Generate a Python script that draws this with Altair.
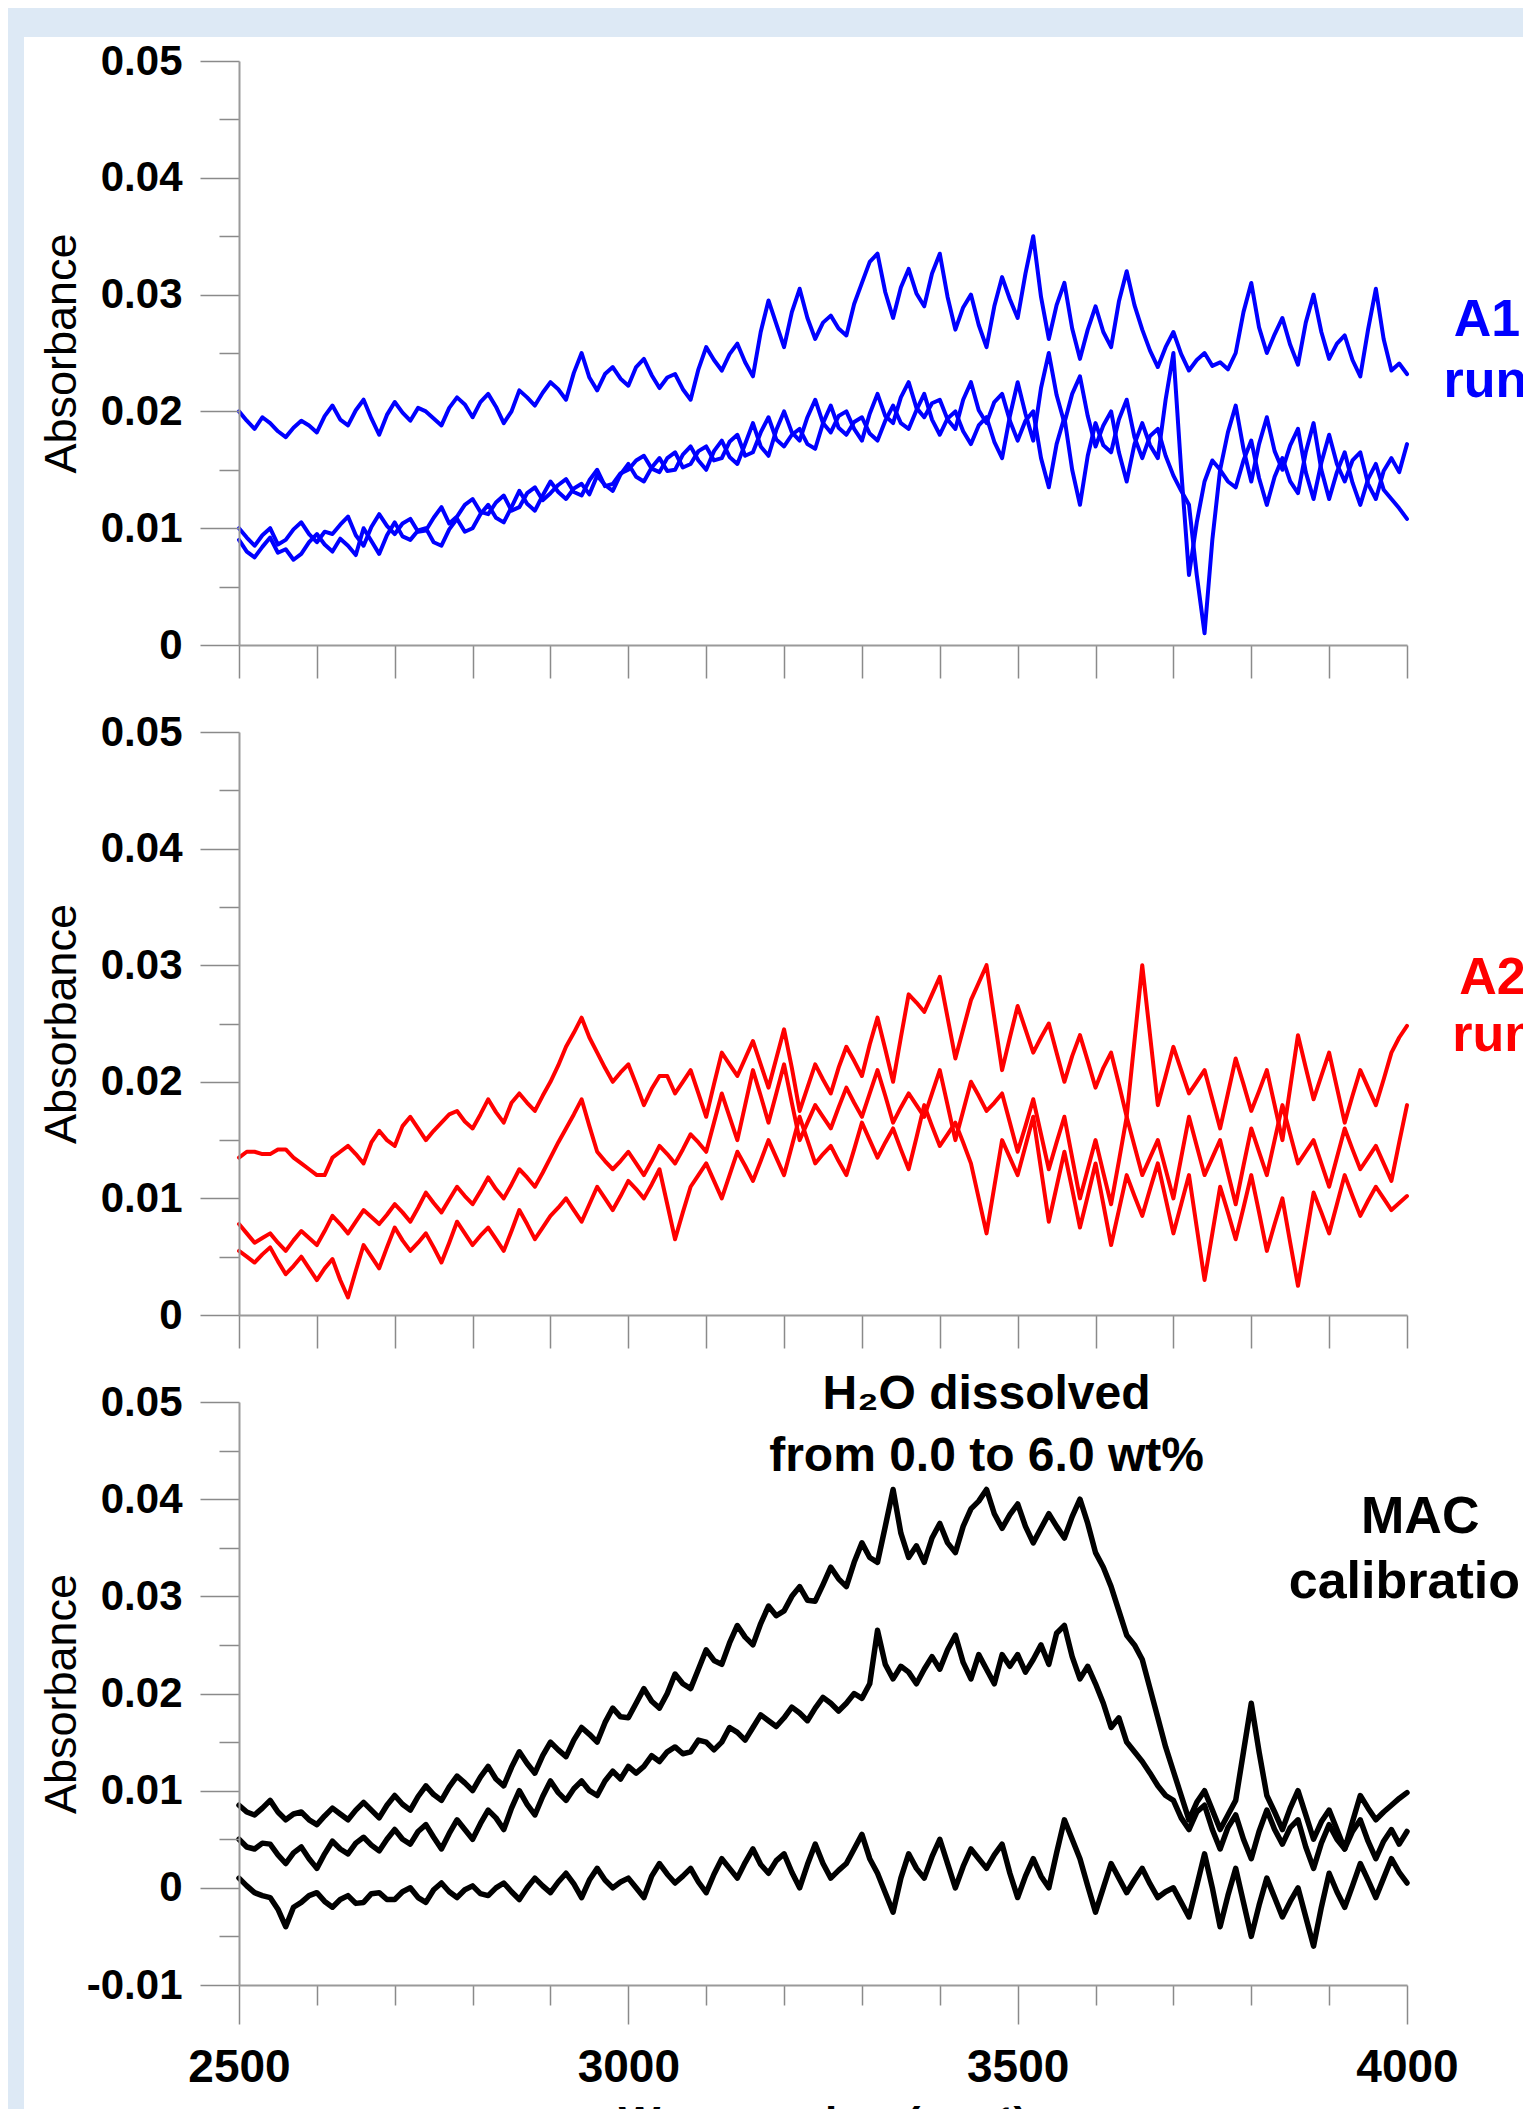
import altair as alt
import pandas as pd

# ---------------- data (absorbance every 10 cm-1 from 2500 to 4000) ----------------
WN = list(range(2500, 4001, 10))

A1_upper = [
    .0200, .0192, .0185, .0195, .0190, .0183, .0178, .0186, .0192, .0188,
    .0182, .0196, .0205, .0193, .0188, .0201, .0210, .0194, .0180, .0197,
    .0208, .0199, .0192, .0203, .0200, .0194, .0188, .0203, .0212, .0206,
    .0195, .0208, .0215, .0204, .0190, .0200, .0218, .0212, .0205, .0216,
    .0225, .0219, .0210, .0233, .0250, .0229, .0218, .0232, .0238, .0228,
    .0222, .0238, .0245, .0231, .0220, .0229, .0232, .0219, .0210, .0236,
    .0255, .0244, .0235, .0249, .0258, .0242, .0230, .0268, .0295, .0275,
    .0255, .0285, .0305, .0280, .0262, .0276, .0282, .0271, .0265, .0292,
    .0310, .0328, .0335, .0302, .0280, .0306, .0322, .0301, .0290, .0318,
    .0335, .0298, .0270, .0289, .0300, .0274, .0255, .0290, .0315, .0296,
    .0280, .0318, .0350, .0298, .0262, .0291, .0310, .0271, .0245, .0270,
    .0290, .0268, .0255, .0294, .0320, .0291, .0270, .0252, .0238, .0255,
    .0268, .0249, .0235, .0244, .0250, .0239, .0242, .0236, .0250, .0285,
    .0310, .0272, .0250, .0266, .0280, .0257, .0240, .0276, .0300, .0268,
    .0245, .0258, .0265, .0244, .0230, .0270, .0305, .0262, .0235, .0241,
    .0232]
A1_mid = [
    .0100, .0092, .0085, .0094, .0100, .0086, .0090, .0099, .0105, .0095,
    .0088, .0097, .0095, .0103, .0110, .0094, .0085, .0101, .0112, .0102,
    .0095, .0104, .0108, .0097, .0098, .0109, .0118, .0104, .0110, .0120,
    .0125, .0114, .0112, .0122, .0128, .0115, .0118, .0130, .0135, .0124,
    .0130, .0137, .0142, .0131, .0128, .0141, .0150, .0136, .0138, .0147,
    .0150, .0158, .0162, .0151, .0148, .0160, .0165, .0152, .0155, .0166,
    .0170, .0158, .0160, .0174, .0180, .0162, .0165, .0182, .0195, .0176,
    .0170, .0180, .0185, .0172, .0168, .0190, .0205, .0186, .0180, .0191,
    .0195, .0181, .0175, .0192, .0205, .0190, .0185, .0201, .0215, .0193,
    .0180, .0194, .0200, .0183, .0172, .0188, .0195, .0174, .0160, .0196,
    .0225, .0198, .0175, .0220, .0250, .0214, .0190, .0215, .0230, .0196,
    .0170, .0188, .0200, .0165, .0140, .0172, .0190, .0171, .0160, .0210,
    .0250, .0150, .0060, .0105, .0140, .0158, .0150, .0182, .0205, .0168,
    .0140, .0172, .0195, .0166, .0150, .0171, .0185, .0148, .0125, .0156,
    .0180, .0155, .0140, .0158, .0165, .0138, .0125, .0149, .0160, .0148,
    .0172]
A1_low = [
    .0090, .0080, .0075, .0084, .0092, .0079, .0082, .0073, .0078, .0088,
    .0095, .0086, .0080, .0091, .0085, .0077, .0100, .0089, .0078, .0094,
    .0105, .0093, .0090, .0098, .0100, .0088, .0085, .0099, .0108, .0097,
    .0100, .0112, .0120, .0109, .0105, .0118, .0132, .0121, .0115, .0128,
    .0140, .0131, .0125, .0134, .0138, .0129, .0145, .0137, .0132, .0146,
    .0155, .0144, .0140, .0152, .0160, .0149, .0150, .0163, .0170, .0158,
    .0150, .0166, .0175, .0161, .0155, .0172, .0190, .0170, .0162, .0184,
    .0200, .0182, .0175, .0195, .0210, .0190, .0182, .0196, .0200, .0185,
    .0175, .0198, .0215, .0196, .0190, .0212, .0225, .0203, .0195, .0207,
    .0210, .0193, .0185, .0210, .0225, .0201, .0190, .0208, .0215, .0192,
    .0175, .0192, .0200, .0160, .0135, .0172, .0195, .0150, .0120, .0162,
    .0190, .0171, .0165, .0193, .0210, .0178, .0160, .0179, .0185, .0162,
    .0145, .0132, .0120, .0060, .0010, .0090, .0150, .0140, .0135, .0158,
    .0175, .0143, .0120, .0144, .0160, .0140, .0130, .0165, .0190, .0150,
    .0125, .0148, .0165, .0139, .0120, .0142, .0155, .0133, .0125, .0117,
    .0108]

A2_upper = [
    .0135, .0140, .0140, .0138, .0138, .0142, .0142, .0135, .0130, .0125,
    .0120, .0120, .0135, .0140, .0145, .0138, .0130, .0148, .0158, .0150,
    .0145, .0162, .0170, .0160, .0150, .0158, .0165, .0172, .0175, .0166,
    .0160, .0172, .0185, .0174, .0165, .0182, .0190, .0182, .0175, .0188,
    .0200, .0214, .0230, .0242, .0255, .0238, .0225, .0212, .0200, .0208,
    .0215, .0198, .0180, .0194, .0205, .0205, .0190, .0200, .0210, .0190,
    .0170, .0198, .0225, .0215, .0205, .0220, .0235, .0215, .0195, .0220,
    .0245, .0212, .0175, .0195, .0215, .0202, .0190, .0212, .0230, .0218,
    .0205, .0232, .0255, .0228, .0200, .0238, .0275, .0268, .0260, .0275,
    .0290, .0255, .0220, .0245, .0270, .0285, .0300, .0255, .0210, .0238,
    .0265, .0245, .0225, .0238, .0250, .0225, .0200, .0222, .0240, .0218,
    .0195, .0212, .0225, .0198, .0170, .0235, .0300, .0240, .0180, .0205,
    .0230, .0210, .0190, .0200, .0210, .0185, .0160, .0190, .0220, .0198,
    .0175, .0192, .0210, .0180, .0150, .0195, .0240, .0212, .0185, .0205,
    .0225, .0195, .0165, .0188, .0210, .0195, .0180, .0202, .0225, .0238,
    .0248]
A2_mid = [
    .0078, .0070, .0062, .0066, .0070, .0062, .0055, .0064, .0072, .0066,
    .0060, .0072, .0085, .0078, .0070, .0080, .0090, .0084, .0078, .0086,
    .0095, .0088, .0080, .0092, .0105, .0096, .0088, .0099, .0110, .0102,
    .0095, .0106, .0118, .0108, .0100, .0112, .0125, .0118, .0110, .0122,
    .0135, .0148, .0160, .0172, .0185, .0162, .0140, .0132, .0125, .0132,
    .0140, .0130, .0120, .0132, .0145, .0138, .0130, .0142, .0155, .0148,
    .0140, .0165, .0190, .0170, .0150, .0180, .0210, .0188, .0165, .0190,
    .0215, .0182, .0150, .0165, .0180, .0170, .0160, .0178, .0195, .0182,
    .0170, .0190, .0210, .0188, .0165, .0178, .0190, .0180, .0170, .0190,
    .0210, .0180, .0150, .0175, .0200, .0188, .0175, .0182, .0190, .0165,
    .0140, .0162, .0185, .0155, .0125, .0148, .0170, .0135, .0100, .0125,
    .0150, .0122, .0095, .0132, .0170, .0145, .0120, .0135, .0150, .0125,
    .0100, .0135, .0170, .0145, .0120, .0135, .0150, .0122, .0095, .0128,
    .0160, .0140, .0120, .0150, .0180, .0155, .0130, .0140, .0150, .0130,
    .0110, .0135, .0160, .0142, .0125, .0135, .0145, .0130, .0115, .0148,
    .0180]
A2_low = [
    .0055, .0050, .0045, .0052, .0058, .0046, .0035, .0042, .0050, .0040,
    .0030, .0040, .0048, .0030, .0015, .0038, .0060, .0050, .0040, .0058,
    .0075, .0064, .0055, .0062, .0070, .0058, .0045, .0062, .0080, .0070,
    .0060, .0068, .0075, .0065, .0055, .0072, .0090, .0078, .0065, .0075,
    .0085, .0092, .0100, .0090, .0080, .0095, .0110, .0100, .0090, .0102,
    .0115, .0108, .0100, .0112, .0125, .0095, .0065, .0088, .0110, .0120,
    .0130, .0115, .0100, .0120, .0140, .0128, .0115, .0132, .0150, .0135,
    .0120, .0145, .0170, .0150, .0130, .0138, .0145, .0132, .0120, .0142,
    .0165, .0150, .0135, .0148, .0160, .0142, .0125, .0152, .0180, .0162,
    .0145, .0155, .0165, .0148, .0130, .0100, .0070, .0110, .0150, .0135,
    .0120, .0145, .0170, .0125, .0080, .0110, .0140, .0108, .0075, .0102,
    .0130, .0095, .0060, .0090, .0120, .0102, .0085, .0108, .0130, .0100,
    .0070, .0095, .0120, .0075, .0030, .0070, .0110, .0088, .0065, .0092,
    .0120, .0088, .0055, .0078, .0100, .0062, .0025, .0065, .0105, .0088,
    .0070, .0095, .0120, .0102, .0085, .0098, .0110, .0100, .0090, .0096,
    .0102]

MAC_6wt = [
    .0085, .0078, .0075, .0082, .0090, .0078, .0070, .0076, .0078, .0070,
    .0065, .0074, .0082, .0076, .0070, .0080, .0088, .0080, .0072, .0085,
    .0095, .0086, .0080, .0094, .0105, .0096, .0090, .0104, .0115, .0108,
    .0100, .0114, .0125, .0112, .0105, .0124, .0140, .0128, .0118, .0136,
    .0150, .0142, .0135, .0152, .0165, .0158, .0150, .0170, .0185, .0176,
    .0175, .0190, .0205, .0192, .0185, .0200, .0220, .0210, .0205, .0225,
    .0245, .0234, .0230, .0252, .0270, .0258, .0250, .0272, .0290, .0280,
    .0285, .0300, .0310, .0296, .0295, .0312, .0330, .0318, .0310, .0335,
    .0355, .0340, .0335, .0372, .0410, .0365, .0340, .0352, .0335, .0360,
    .0375, .0355, .0345, .0372, .0390, .0398, .0410, .0385, .0370, .0384,
    .0395, .0372, .0355, .0370, .0385, .0372, .0360, .0382, .0400, .0375,
    .0345, .0330, .0310, .0285, .0260, .0250, .0235, .0205, .0175, .0145,
    .0120, .0095, .0070, .0088, .0100, .0080, .0060, .0075, .0090, .0140,
    .0190, .0140, .0095, .0078, .0060, .0082, .0100, .0075, .0050, .0068,
    .0080, .0060, .0040, .0068, .0095, .0082, .0070, .0078, .0085, .0092,
    .0098]
MAC_mid = [
    .0050, .0042, .0040, .0046, .0045, .0034, .0025, .0036, .0042, .0030,
    .0020, .0035, .0048, .0040, .0035, .0046, .0052, .0044, .0038, .0050,
    .0060, .0050, .0045, .0058, .0065, .0052, .0040, .0056, .0070, .0060,
    .0050, .0066, .0080, .0072, .0060, .0082, .0100, .0086, .0075, .0094,
    .0110, .0098, .0090, .0102, .0110, .0100, .0095, .0110, .0120, .0112,
    .0125, .0118, .0125, .0136, .0130, .0140, .0145, .0138, .0140, .0152,
    .0150, .0142, .0150, .0165, .0160, .0152, .0165, .0178, .0172, .0166,
    .0175, .0186, .0180, .0172, .0185, .0196, .0190, .0182, .0190, .0200,
    .0195, .0210, .0265, .0230, .0215, .0228, .0222, .0210, .0225, .0238,
    .0225, .0245, .0260, .0232, .0215, .0240, .0225, .0210, .0240, .0228,
    .0240, .0222, .0235, .0250, .0230, .0262, .0270, .0238, .0215, .0228,
    .0210, .0190, .0165, .0175, .0150, .0140, .0130, .0118, .0105, .0095,
    .0090, .0072, .0060, .0078, .0085, .0060, .0040, .0062, .0075, .0050,
    .0030, .0058, .0080, .0060, .0045, .0062, .0070, .0042, .0020, .0046,
    .0065, .0050, .0040, .0058, .0070, .0048, .0030, .0048, .0060, .0045,
    .0058]
MAC_0wt = [
    .0010, .0002, -.0005, -.0008, -.0010, -.0022, -.0040, -.0020, -.0015, -.0008,
    -.0005, -.0014, -.0020, -.0012, -.0008, -.0016, -.0015, -.0006, -.0005, -.0012,
    -.0012, -.0004, .0000, -.0010, -.0015, -.0002, .0005, -.0004, -.0010, -.0002,
    .0002, -.0006, -.0008, .0000, .0005, -.0004, -.0012, .0000, .0010, .0002,
    -.0005, .0006, .0015, .0004, -.0010, .0008, .0020, .0008, .0000, .0006,
    .0010, .0000, -.0010, .0012, .0025, .0014, .0005, .0012, .0020, .0006,
    -.0005, .0014, .0030, .0020, .0010, .0026, .0040, .0024, .0015, .0028,
    .0035, .0016, .0000, .0024, .0045, .0025, .0010, .0018, .0025, .0040,
    .0055, .0030, .0015, -.0005, -.0025, .0010, .0035, .0020, .0010, .0032,
    .0050, .0025, .0000, .0022, .0040, .0030, .0020, .0034, .0045, .0015,
    -.0010, .0012, .0030, .0012, .0000, .0036, .0070, .0050, .0030, .0002,
    -.0025, .0000, .0025, .0010, -.0005, .0008, .0020, .0004, -.0010, -.0004,
    .0000, -.0015, -.0030, .0002, .0035, .0000, -.0040, -.0008, .0020, -.0015,
    -.0050, -.0018, .0010, -.0010, -.0030, -.0014, .0000, -.0030, -.0060, -.0020,
    .0015, -.0004, -.0020, .0002, .0025, .0008, -.0010, .0010, .0030, .0016,
    .0005]

Y_TICKS_A = [0, .005, .01, .015, .02, .025, .03, .035, .04, .045, .05]
Y_TICKS_B = [-.01, -.005] + Y_TICKS_A
X_TICKS = list(range(2500, 4001, 100))

A1_labels = ["A1", "runs"]
A2_labels = ["A2", "runs"]
MAC_labels = ["MAC", "calibration"]
H2O_labels = ["H\u2082O dissolved", "from 0.0 to 6.0 wt%"]

# ---------------- helpers ----------------
FONT = "Liberation Sans"
W = 1168
AXIS_GRAY = "#9a9a9a"
TICK_GRAY = "#8a8a8a"
MAJOR_Y = "abs(datum.value*100 - round(datum.value*100)) < 1e-6"
MAJOR_X = "datum.value % 500 === 0"
Y_LABEL = (MAJOR_Y + " ? (abs(datum.value) < 1e-9 ? '0' : "
           "((datum.value < 0 ? '-' : '') + format(abs(datum.value), '.2f'))) : ''")


def long_df(series):
    rows = []
    for name, vals in series.items():
        assert len(vals) == len(WN), (name, len(vals))
        for w, v in zip(WN, vals):
            rows.append({"wn": w, "absorb": v, "trace": name})
    return pd.DataFrame(rows)


def x_axis(bottom):
    common = dict(values=X_TICKS, orient="bottom", zindex=1, grid=False,
                  domainColor=AXIS_GRAY, domainWidth=2, tickColor=TICK_GRAY,
                  tickWidth=1.5)
    if bottom:
        return alt.Axis(
            **common,
            tickSize={"condition": {"test": MAJOR_X, "value": 39}, "value": 20},
            labelExpr="datum.value % 500 === 0 ? format(datum.value, 'd') : ''",
            labelFlush=False,
            labelFont=FONT, labelFontWeight="bold", labelFontSize=46,
            labelColor="black", labelPadding=21,
            title="Wavenumber (cm\u207b\u00b9)", titleFont=FONT,
            titleFontWeight="bold", titleFontSize=44, titleColor="black",
            titlePadding=12,
        )
    return alt.Axis(**common, tickSize=33, labels=False, title=None)


def y_axis(vals, h):
    return alt.Axis(
        values=vals, orient="left", zindex=1, grid=False,
        domainColor=AXIS_GRAY, domainWidth=2, tickColor=TICK_GRAY, tickWidth=1.5,
        tickSize={"condition": {"test": MAJOR_Y, "value": 39}, "value": 20},
        labelExpr=Y_LABEL, labelFlush=False,
        labelFont=FONT, labelFontWeight="bold", labelFontSize=42,
        labelColor="black", labelPadding=18,
        title="Absorbance", titleFont=FONT, titleFontWeight="normal",
        titleFontSize=45, titleColor="black", titleAngle=-90,
        titleX=-178, titleY=h / 2, titleAlign="center", titleBaseline="middle",
    )


def panel(series, color, width, ydom, yvals, h, bottom, texts, text_color, bg):
    xs = alt.Scale(domain=[2500, 4000], nice=False, zero=False)
    ys = alt.Scale(domain=ydom, nice=False, zero=False)
    xa = x_axis(bottom)
    ya = y_axis(yvals, h)
    df = long_df(series)
    layers = []
    if bg:
        # white slide area behind the three panels (cut at the page edges)
        layers.append(
            alt.Chart(pd.DataFrame({"k": [0]})).mark_rect(color="white").encode(
                x=alt.value(-215), x2=alt.value(1341),
                y=alt.value(-24), y2=alt.value(2099),
            )
        )
    layers.append(
        alt.Chart(df).mark_line(
            strokeWidth=width, color=color, strokeJoin="round", strokeCap="round"
        ).encode(
            x=alt.X("wn:Q", scale=xs, axis=xa),
            y=alt.Y("absorb:Q", scale=ys, axis=ya),
            detail="trace:N",
        )
    )
    for tdf, align, size in texts:
        layers.append(
            alt.Chart(tdf).mark_text(
                font=FONT, fontWeight="bold", fontSize=size, color=text_color,
                align=align, baseline="middle",
            ).encode(
                x=alt.X("x:Q", scale=xs, axis=xa),
                y=alt.Y("y:Q", scale=ys, axis=ya),
                text="label:N",
            )
        )
    return alt.layer(*layers).properties(width=W, height=h)


t_a1 = pd.DataFrame({"x": [4060, 4047], "y": [0.0278, 0.0226], "label": A1_labels})
t_a2 = pd.DataFrame({"x": [4067, 4058], "y": [0.0289, 0.0240], "label": A2_labels})
t_mac = pd.DataFrame({"x": [4017, 4017], "y": [0.0382, 0.0315], "label": MAC_labels})
t_h2o = pd.DataFrame({"x": [3460, 3460], "y": [0.0507, 0.0443], "label": H2O_labels})

p1 = panel({"u": A1_upper, "m": A1_mid, "l": A1_low}, "#0000ff", 4.0, [0, 0.05],
           Y_TICKS_A, 584, False, [(t_a1, "left", 52)], "#0000ff", True)
p2 = panel({"u": A2_upper, "m": A2_mid, "l": A2_low}, "#ff0000", 4.0, [0, 0.05],
           Y_TICKS_A, 583, False, [(t_a2, "left", 52)], "#ff0000", False)
p3 = panel({"u": MAC_6wt, "m": MAC_mid, "l": MAC_0wt}, "black", 5.5, [-0.01, 0.05],
           Y_TICKS_B, 583, True, [(t_mac, "center", 52), (t_h2o, "center", 48)],
           "black", False)

chart = alt.vconcat(p1, p2, p3, spacing=87, bounds="flush").properties(
    background="#dde9f5",
    padding={"left": 16, "top": 29, "right": -57, "bottom": -51},
).configure_view(strokeWidth=0)

chart.save("out.html", embed_options={"renderer": "svg", "actions": False})
